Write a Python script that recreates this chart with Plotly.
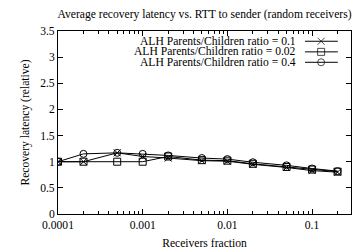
import plotly.graph_objects as go

fraction = [0.0001, 0.0002, 0.0005, 0.001, 0.002, 0.005, 0.01, 0.02, 0.05, 0.1, 0.2]
ratio_01 = [1.0, 1.0, 1.17, 1.10, 1.07, 1.02, 1.01, 0.95, 0.89, 0.83, 0.80]
ratio_002 = [1.0, 1.0, 1.0, 1.0, 1.10, 1.03, 1.02, 0.96, 0.90, 0.85, 0.81]
ratio_04 = [1.0, 1.15, 1.17, 1.15, 1.12, 1.07, 1.05, 0.99, 0.93, 0.87, 0.82]
names = ["ALH Parents/Children ratio = 0.1", "ALH Parents/Children ratio = 0.02", "ALH Parents/Children ratio = 0.4"]
symbols = ["x-thin-open", "square-open", "circle-open"]
series = [ratio_01, ratio_002, ratio_04]

FONT = "Liberation Serif"
FS = 11.6
fig = go.Figure()
for name, sym, ys in zip(names, symbols, series):
    fig.add_trace(go.Scatter(x=fraction, y=ys, mode="lines+markers", name=name,
                             line=dict(color="black", width=1),
                             marker=dict(symbol=sym, size=7, color="black",
                                         line=dict(color="black", width=1)),
                             showlegend=False))

# custom legend (text left, sample right) in the overlay axis
leg_y = [0.944, 0.886, 0.829]
for name, sym, ly in zip(names, symbols, leg_y):
    fig.add_trace(go.Scatter(x=[0.843, 0.898, 0.955], y=[ly, ly, ly], xaxis="x2", yaxis="y2",
                             mode="lines+markers", showlegend=False, hoverinfo="skip",
                             line=dict(color="black", width=1),
                             marker=dict(symbol=sym, size=[0, 7, 0], color="black",
                                         line=dict(color="black", width=1))))
    fig.add_annotation(x=0.818, y=ly, xref="x2", yref="y2", text=name, showarrow=False,
                       xanchor="right", yanchor="middle", font=dict(family=FONT, size=FS, color="black"))

minor_vals = [m * 10 ** e for e in range(-4, 0) for m in range(2, 10)]
fig.update_layout(
    width=354, height=250,
    margin=dict(l=58, r=3, t=31, b=36),
    paper_bgcolor="white", plot_bgcolor="white",
    font=dict(family=FONT, size=FS, color="black"),
    title=dict(text="Average recovery latency vs. RTT to sender (random receivers)",
               x=0.5, xref="paper", y=0.945, yanchor="middle",
               font=dict(family=FONT, size=FS, color="black")),
    xaxis=dict(type="log", range=[-4, -0.54], tickvals=[0.0001, 0.001, 0.01, 0.1],
               ticktext=["0.0001", "0.001", "0.01", "0.1"],
               ticks="inside", ticklen=5, tickcolor="black", mirror="ticks",
               showline=True, linecolor="black", linewidth=1, showgrid=False, zeroline=False,
               minor=dict(tickvals=minor_vals, ticks="inside", ticklen=3, tickcolor="black", showgrid=False),
               title=dict(text="Receivers fraction", font=dict(family=FONT, size=FS), standoff=8)),
    yaxis=dict(range=[0, 3.5], tickvals=[0, 0.5, 1, 1.5, 2, 2.5, 3, 3.5],
               ticktext=["0", "0.5", "1", "1.5", "2", "2.5", "3", "3.5"],
               ticks="inside", ticklen=5, tickcolor="black", mirror="ticks",
               showline=True, linecolor="black", linewidth=1, showgrid=False, zeroline=False,
               title=dict(text="Recovery latency (relative)", font=dict(family=FONT, size=FS), standoff=8)),
    xaxis2=dict(domain=[0, 1], range=[0, 1], overlaying="x", visible=False, fixedrange=True),
    yaxis2=dict(domain=[0, 1], range=[0, 1], overlaying="y", visible=False, fixedrange=True, anchor="x2"),
)
fig.write_html("out.html", config={"displayModeBar": False},
               post_script="document.body.style.margin='0';document.body.style.padding='0';")
